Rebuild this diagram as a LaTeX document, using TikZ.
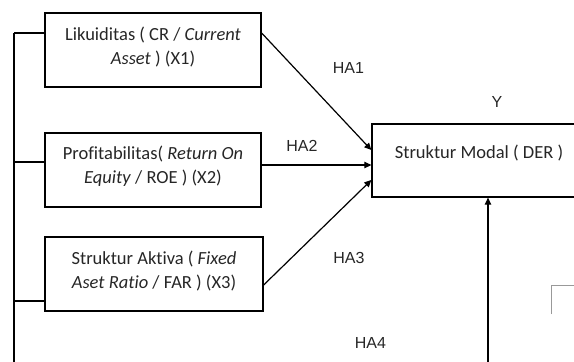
\documentclass[tikz,border=0pt]{standalone}
\usepackage{fontspec}
\setmainfont{Carlito}[Ligatures={NoCommon}]
\newfontfamily\arialf{Liberation Sans}
\usetikzlibrary{arrows.meta}
\begin{document}
\begin{tikzpicture}[x=1pt,y=-1pt,
 box/.style={draw, line width=1.3pt, minimum width=216pt, minimum height=74pt, inner sep=0pt},
 btext/.style={font=\fontsize{18.5}{24.5}\selectfont, align=center, inner sep=0pt, text=black!85},
 lab/.style={font=\arialf\fontsize{16}{19}\selectfont, inner sep=0pt, text=black!85},
 conn/.style={line width=1.2pt},
 arr/.style={line width=1.2pt, -{Triangle[length=7pt,width=6.5pt]}}]
\useasboundingbox (0,0) rectangle (574,362);
\clip (0,0) rectangle (574,362);
% boxes
\node[box] (x1) at (153,50) {};
\node[box] (x2) at (153,170) {};
\node[box, minimum width=218pt] (x3) at (154,274) {};
\node[box, minimum width=214pt, minimum height=73pt] (dv) at (479,160.5) {};
% box texts
\node[btext] (x1t) at (153,47) {Likuiditas ( CR / \textit{Current}\\\textit{Asset} ) (X1)};
\node[btext] (x2t) at (153,166) {Profitabilitas( \textit{Return On}\\\textit{Equity} / ROE ) (X2)};
\node[btext] (x3t) at (154,271) {Struktur Aktiva ( \textit{Fixed}\\\textit{Aset Ratio} / FAR ) (X3)};
\node[btext] (dvt) at (479,153) {Struktur Modal ( DER )};
% labels
\node[lab] (ha1) at (348.5,67.5) {HA1};
\node[lab] (ha2) at (302,146) {HA2};
\node[lab] (ha3) at (349,258) {HA3};
\node[lab] (ha4) at (370.5,343) {HA4};
\node[lab] (ylab) at (497,102) {Y};
% left bus
\coordinate (c1) at (14,33);
\coordinate (c2) at (14,162);
\coordinate (c3) at (14,301);
\coordinate (cb) at (14,362);
\draw[conn] (c1) -- (cb);
\draw[conn] (c1) -- (c1 -| x1.west);
\draw[conn] (c2) -- (c2 -| x2.west);
\draw[conn] (c3) -- (c3 -| x3.west);
% arrows
\draw[arr] (x1.east |- c1) -- ([yshift=10.5pt]dv.west);
\draw[arr] ([yshift=5pt]x2.east) -- ([yshift=-4.5pt]dv.west);
\draw[arr] ([yshift=-11pt]x3.east) -- ([yshift=-19.5pt]dv.west);
\coordinate (vb) at (488,362);
\draw[arr] (vb) -- (vb |- dv.south);
% gray corner
\draw[black!40, line width=0.9pt] (551,314) -- (551,285) -- (574,285);
\end{tikzpicture}
\end{document}
